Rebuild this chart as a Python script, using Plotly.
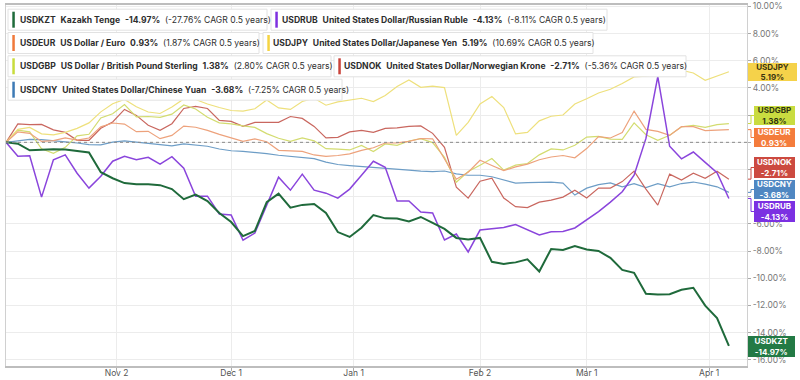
import pandas as pd
import plotly.graph_objects as go

# ---------------- data (percent change since start) ----------------
dates = pd.date_range("2025-10-05", periods=62, freq="3D")

usdkzt = [0, -0.1, -0.59, -0.53, -0.51, -0.53, -0.62, -0.75, -2.2, -2.64,
          -3.0, -3.08, -3.08, -3.15, -3.44, -4.18, -3.85, -4.32, -5.2, -5.86,
          -6.9, -6.52, -4.4, -3.77, -4.8, -4.6, -4.54, -5.2, -6.6, -6.96,
          -6.28, -5.35, -5.59, -5.6, -5.82, -5.49, -5.93, -6.37, -7.03, -7.14,
          -7.03, -8.79, -8.94, -8.83, -8.61, -9.5, -7.84, -7.91, -7.62, -7.88,
          -7.99, -8.5, -9.38, -9.6, -11.14, -11.2, -11.17, -10.84, -10.7, -12.01,
          -12.93, -14.97]

usdrub = [0, -1.03, -0.99, -4.03, -1.28, -0.92, -2.27, -3.37, -2.5, -1.39,
          -1.03, -1.28, -1.1, -1.61, -1.06, -1.9, -3.96, -3.96, -5.27, -5.35,
          -7.2, -6.67, -4.62, -2.56, -3.52, -2.34, -3.52, -3.74, -4.1, -3.44,
          -2.42, -1.39, -1.83, -4.32, -4.32, -5.13, -5.2, -7.18, -6.74, -8.06,
          -6.45, -6.37, -6.26, -6.04, -6.45, -6.81, -6.57, -6.56, -6.3, -5.71,
          -5.09, -4.4, -3.63, -2.42, 0.29, 4.84, -0.29, -1.21, -0.71, -1.47,
          -2.23, -4.13]

usdeur = [0, 0.77, 0.66, 0.07, 0.12, 0.33, 0.16, 0.32, 1.14, 1.42,
          1.34, 0.78, 0.81, 0.27, 0.51, 1.19, 1.11, 0.88, 0.59, 0.34,
          0.07, 0.25, 0.04, -0.59, -0.64, -0.67, -0.93, -1.03, -0.97, -0.85,
          -0.59, -0.4, -0.05, -0.04, 0.07, 0.28, 0.26, -1.23, -2.71, -2.2,
          -1.32, -1.7, -2.08, -1.81, -1.6, -1.28, -1.08, -0.97, -1.14, -0.46,
          0.42, 0.32, 0.72, 2.3, 0.95, 0.81, 0.51, 1.15, 1.15, 0.86,
          0.89, 0.93]

usdjpy = [0, 0.95, 1.1, 0.62, 0.55, 0.73, 1.03, 1.43, 2.24, 2.84,
          3.15, 2.61, 2.23, 2.12, 2.59, 3.19, 3.15, 2.82, 2.56, 2.34,
          2.29, 2.47, 3.11, 2.53, 2.42, 3.0, 3.24, 2.73, 2.97, 3.11,
          3.24, 3.0, 3.44, 4.1, 4.58, 4.05, 4.14, 4.03, 0.51, 1.47,
          2.82, 3.37, 2.56, 0.62, 0.73, 1.58, 1.92, 2.01, 2.82, 3.2,
          3.63, 3.9, 4.32, 4.81, 4.87, 5.0, 4.92, 5.3, 5.1, 4.56,
          4.87, 5.19]

usdgbp = [0, 0.9, 0.77, -0.48, -0.81, -0.37, 0.48, 0.59, 1.79, 2.1,
          2.78, 1.87, 1.9, 1.83, 2.07, 2.75, 2.45, 1.85, 1.43, 1.36,
          1.21, 1.1, 0.64, 0.3, 0.07, 0.32, 0.11, -0.47, -0.5, -0.56,
          -0.23, -0.68, -0.12, -0.22, 0.1, 0.27, -0.02, -1.11, -2.93, -2.15,
          -1.68, -1.19, -2.04, -1.68, -1.56, -0.92, -0.48, -0.56, -0.22, 0.39,
          0.44, 0.23, 0.22, 1.43, 0.56, 0.15, 0.52, 1.14, 1.25, 1.1,
          1.3, 1.38]

usdnok = [0, 1.36, 1.3, 1.32, 0.92, 0.73, 0.15, 0.15, 1.03, 1.5,
          2.42, 1.98, 1.25, 0.88, 1.37, 2.49, 2.64, 2.49, 1.61, 1.54,
          1.17, 1.47, 1.47, 1.47, 1.9, 1.76, 1.17, 0.33, 0.37, 0.77,
          0.88, 0.73, 1.03, 1.06, 1.17, 1.21, 0.66, -0.37, -3.3, -4.1,
          -2.86, -2.64, -4.1, -4.73, -4.8, -4.4, -4.25, -4.03, -3.52, -4.1,
          -3.37, -3.37, -2.89, -2.12, -3.44, -4.62, -2.34, -2.78, -2.27, -2.64,
          -2.12, -2.71]

usdcny = [0, 0.12, 0.22, 0.2, 0.09, 0.03, -0.05, -0.17, -0.18, 0.02,
          0.1, 0, -0.07, -0.17, -0.26, -0.12, -0.18, -0.29, -0.49, -0.62,
          -0.66, -0.72, -0.83, -0.95, -1.04, -1.12, -1.2, -1.45, -1.63, -1.71,
          -1.77, -1.82, -1.9, -1.98, -2.04, -2.12, -2.16, -2.11, -2.32, -2.42,
          -2.42, -2.53, -2.74, -3.0, -2.97, -2.95, -2.92, -3.0, -3.88, -3.37,
          -3.11, -2.99, -3.27, -3.04, -3.33, -3.04, -3.27, -3.03, -2.92, -3.08,
          -3.27, -3.68]

symbols = ["USDKZT", "USDRUB", "USDEUR", "USDJPY", "USDGBP", "USDNOK", "USDCNY"]
names = ["Kazakh Tenge", "United States Dollar/Russian Ruble", "US Dollar / Euro",
         "United States Dollar/Japanese Yen", "US Dollar / British Pound Sterling",
         "United States Dollar/Norwegian Krone", "United States Dollar/Chinese Yuan"]
cagr_text = ["(-27.76% CAGR 0.5 years)", "(-8.11% CAGR 0.5 years)", "(1.87% CAGR 0.5 years)",
             "(10.69% CAGR 0.5 years)", "(2.80% CAGR 0.5 years)", "(-5.36% CAGR 0.5 years)",
             "(-7.25% CAGR 0.5 years)"]
tick_dates = ["2025-11-02", "2025-12-01", "2026-01-01", "2026-02-02", "2026-03-01", "2026-04-01"]
tick_labels = ["Nov 2", "Dec 1", "Jan 1", "Feb 2", "Mar 1", "Apr 1"]
y_ticks = [10, 8, 6, 4, 2, 0, -2, -4, -6, -8, -10, -12, -14, -16]
# labels that sit completely under the value boxes on the right are not visible
y_hidden = [2, 0, -2, -4]

values = dict(USDKZT=usdkzt, USDRUB=usdrub, USDEUR=usdeur, USDJPY=usdjpy,
              USDGBP=usdgbp, USDNOK=usdnok, USDCNY=usdcny)

# ---------------- styles ----------------
line_col = dict(USDKZT="#1f6a3b", USDRUB="#8a45dc", USDEUR="#eda27c", USDJPY="#eee07c",
                USDGBP="#d3dc70", USDNOK="#c9675f", USDCNY="#6d9dc6")
line_w = dict(USDKZT=2.0, USDRUB=1.5, USDEUR=1.2, USDJPY=1.2, USDGBP=1.2, USDNOK=1.2, USDCNY=1.2)
box_col = dict(USDKZT="#237a45", USDRUB="#7b30e2", USDEUR="#f47c3c", USDJPY="#f5d24a",
               USDGBP="#c9dc40", USDNOK="#cc4a40", USDCNY="#4f87c2")
bar_col = dict(USDKZT="#1e6b3a", USDRUB="#7e30e0", USDEUR="#f0793a", USDJPY="#f5d442",
               USDGBP="#c8dc3c", USDNOK="#c9433a", USDCNY="#3d7ab5")
FONT = "Inter, Roboto, sans-serif"

# plot-area pixel geometry
PL, PR, PT, PB = 6, 747, 5, 366
W, H = 800, 380


def fx(px):
    return (px - PL) / (PR - PL)


def fy(py):
    return (PB - py) / (PB - PT)


fig = go.Figure()
for s in ["USDCNY", "USDNOK", "USDGBP", "USDJPY", "USDEUR", "USDRUB", "USDKZT"]:
    fig.add_trace(go.Scatter(x=dates, y=values[s], mode="lines", name=s,
                             line=dict(color=line_col[s], width=line_w[s]),
                             showlegend=False, hoverinfo="skip"))

shapes = []
annotations = []

# dotted zero line
shapes.append(dict(type="line", xref="paper", yref="y", x0=0, x1=1, y0=0, y1=0,
                   line=dict(color="#8a8a8a", width=1, dash="dot"), layer="above"))

# legend boxes (pixel layout): symbol -> (box_left, box_right, row_center, text_x)
legend_layout = {
    "USDKZT": (8, 267, 19.7, 19),
    "USDRUB": (271, 607, 19.7, 281),
    "USDEUR": (8, 259, 43, 19),
    "USDJPY": (263, 593, 43, 271.5),
    "USDGBP": (8, 331, 66.3, 19),
    "USDNOK": (334, 686, 66.3, 343),
    "USDCNY": (8, 342, 89.7, 19),
}
for i, s in enumerate(symbols):
    l, r, c, tx = legend_layout[s]
    shapes.append(dict(type="rect", xref="paper", yref="paper",
                       x0=fx(l), x1=fx(r), y0=fy(c + 10.5), y1=fy(c - 10.5),
                       fillcolor="white", line=dict(color="#e2e2e2", width=1), layer="above"))
    shapes.append(dict(type="rect", xref="paper", yref="paper",
                       x0=fx(l + 4.3), x1=fx(l + 6.8), y0=fy(c + 8), y1=fy(c - 8),
                       fillcolor=bar_col[s], line=dict(width=0), layer="above"))
    last = values[s][-1]
    txt = (f"<b>{s}</b>\u00a0\u00a0<b>{names[i]}</b>\u00a0\u00a0<b>{last:.2f}%</b>"
           f"\u00a0\u00a0{cagr_text[i]}")
    annotations.append(dict(xref="paper", yref="paper", x=fx(tx), y=fy(c),
                            xanchor="left", yanchor="middle", text=txt, showarrow=False,
                            borderpad=0, font=dict(family=FONT, size=8.6, color="#2e2e2e")))

# right-side value boxes: symbol -> (left, right, top, bottom, text colour)
right_boxes = {
    "USDJPY": (748, 797, 63, 81, "#3a3410"),
    "USDGBP": (754, 795, 106, 125, "#2f3410"),
    "USDEUR": (754, 795, 128, 147, "white"),
    "USDNOK": (754, 795, 157, 178, "white"),
    "USDCNY": (754, 795, 180, 199, "white"),
    "USDRUB": (754, 795, 201, 222, "white"),
    "USDKZT": (748, 795, 336, 357, "white"),
}
for s, (l, r, t, b, tc) in right_boxes.items():
    last = values[s][-1]
    cy = (t + b) / 2
    if l > 750:
        # bracket connector from the line end to the displaced label
        py_end = 142.3 - last * 13.6
        path = (f"M {fx(748)} {fy(py_end)} L {fx(751)} {fy(py_end)} "
                f"L {fx(751)} {fy(cy)} L {fx(l)} {fy(cy)}")
        shapes.append(dict(type="path", xref="paper", yref="paper", path=path,
                           line=dict(color=box_col[s], width=1), layer="above"))
    annotations.append(dict(xref="paper", yref="paper", x=fx(l), y=fy(cy),
                            xanchor="left", yanchor="middle", showarrow=False,
                            width=r - l, height=b - t, align="center", valign="middle",
                            bgcolor=box_col[s], borderpad=0, borderwidth=0,
                            text=f"<b>{s}</b><br><b>{last:.2f}%</b>",
                            font=dict(family=FONT, size=8, color=tc)))

y_text = ["" if v in y_hidden else f"{v:.2f}%" for v in y_ticks]

fig.update_layout(
    width=W, height=H,
    margin=dict(l=PL, r=W - PR, t=PT, b=H - PB, autoexpand=False),
    paper_bgcolor="white", plot_bgcolor="white",
    font=dict(family=FONT, size=9, color="#555"),
    shapes=shapes, annotations=annotations,
    xaxis=dict(type="date", range=["2025-10-05", "2026-04-10 14:00"],
               tickvals=tick_dates, ticktext=tick_labels,
               showgrid=True, gridcolor="#ececec", gridwidth=1,
               ticks="outside", ticklen=3, tickcolor="#aaa", ticklabelstandoff=-5,
               showline=True, linecolor="#bdbdbd", linewidth=1.5, mirror=True,
               tickfont=dict(family=FONT, size=8.5, color="#555"), automargin=False),
    yaxis=dict(side="right", range=[-16.45, 10.1],
               tickvals=y_ticks, ticktext=y_text,
               showgrid=True, gridcolor="#ececec", gridwidth=1, zeroline=False,
               ticks="outside", ticklen=3, tickcolor="#aaa",
               showline=True, linecolor="#d0d0d0", linewidth=1, mirror=True,
               tickfont=dict(family=FONT, size=8.5, color="#777"), automargin=False),
)

fig.write_html("out.html", config={"displayModeBar": False},
               post_script="document.body.style.margin='0';document.body.style.overflow='hidden';")
